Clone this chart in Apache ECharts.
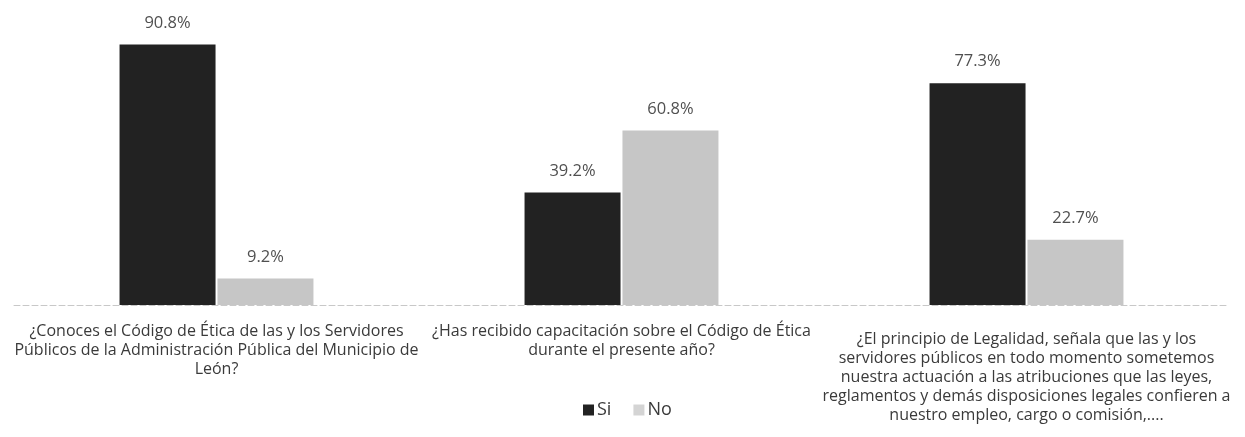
<!DOCTYPE html>
<html>
<head>
<meta charset="utf-8">
<script src="https://cdn.jsdelivr.net/npm/echarts@6/dist/echarts.min.js"></script>
<style>
html,body{margin:0;padding:0;background:#fff;}
#chart{width:1245px;height:437px;}
</style>
</head>
<body>
<div id="chart"></div>
<script>
const categories = [
  "¿Conoces el Código de Ética de las y los Servidores\nPúblicos de la Administración Pública del Municipio de\nLeón?",
  "¿Has recibido capacitación sobre el Código de Ética\ndurante el presente año?",
  "¿El principio de Legalidad, señala que las y los\nservidores públicos en todo momento sometemos\nnuestra actuación a las atribuciones que las leyes,\nreglamentos y demás disposiciones legales confieren a\nnuestro empleo, cargo o comisión,...."
];
const siValues = [90.8, 39.2, 77.3];
const noValues = [9.2, 60.8, 22.7];
const seriesNames = ["Si", "No"];

const chart = echarts.init(document.getElementById('chart'));
const labelStyle = {
  show: true, position: 'top', distance: 13,
  formatter: p => p.value.toFixed(1) + '%',
  color: '#505050', fontSize: 16.5, fontFamily: 'Open Sans'
};
chart.setOption({
  animation: false,
  backgroundColor: '#fff',
  grid: { left: 14, right: 16, top: 18, bottom: 132 },
  legend: {
    data: [
      { name: seriesNames[0], itemStyle: { color: '#222222' } },
      { name: seriesNames[1], itemStyle: { color: '#d4d4d4' } }
    ],
    top: 396, left: 578,
    itemWidth: 11, itemHeight: 11, itemGap: 22,
    icon: 'rect',
    textStyle: { color: '#3a3a3a', fontSize: 18, fontFamily: 'Open Sans', padding: [0, 0, 0, -2] }
  },
  xAxis: {
    type: 'category',
    data: categories.map((c, i) => i === 2 ? { value: c, textStyle: { padding: [8, 0, 0, 0] } } : c),
    axisTick: { show: false },
    axisLine: { lineStyle: { color: '#c8c8c8', width: 1, type: [6, 3] } },
    axisLabel: {
      interval: 0, margin: 17, color: '#3a3a3a', fontSize: 16,
      fontFamily: 'Open Sans', lineHeight: 19, align: 'center'
    }
  },
  yAxis: { type: 'value', min: 0, max: 100, show: false, splitLine: { show: false } },
  series: [
    { name: seriesNames[0], type: 'bar', data: siValues, barWidth: 96, barGap: '2%',
      barCategoryGap: '52%', itemStyle: { color: '#222222' }, label: labelStyle },
    { name: seriesNames[1], type: 'bar', data: noValues, barWidth: 96,
      itemStyle: { color: '#c6c6c6' }, label: labelStyle }
  ]
});
</script>
</body>
</html>
